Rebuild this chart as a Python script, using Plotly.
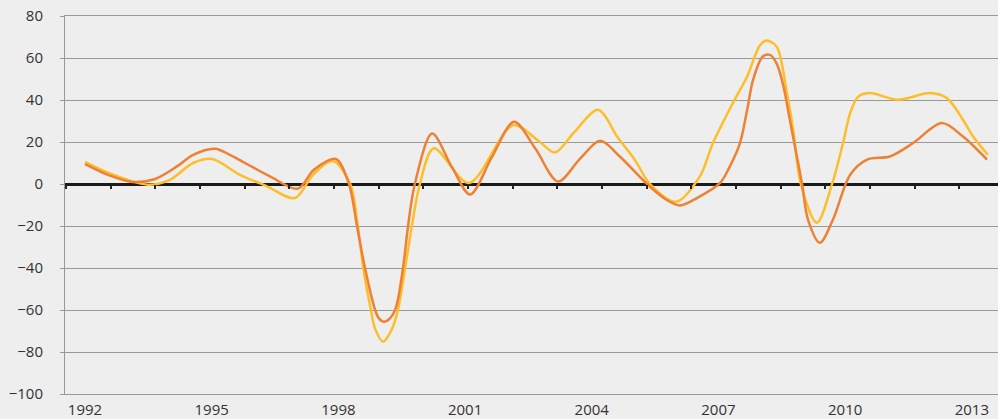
import plotly.graph_objects as go

# Orange series (decimal year, value)
orange_x = [1992.00, 1992.59, 1993.11, 1993.66, 1994.18, 1994.56, 1995.08, 1995.43, 1995.79,
            1996.38, 1997.04, 1997.42, 1997.94, 1998.25, 1998.44, 1998.63, 1998.87, 1998.96,
            1999.08, 1999.22, 1999.36, 1999.53, 1999.65, 1999.81, 2000.22, 2000.69, 2001.12,
            2001.64, 2002.16, 2002.66, 2003.20, 2003.72, 2004.20, 2004.67, 2005.31, 2005.73,
            2006.09, 2006.49, 2007.04, 2007.27, 2007.51, 2007.68, 2007.82, 2008.05, 2008.22,
            2008.38, 2008.54, 2008.69, 2008.98, 2009.12, 2009.40, 2009.71, 2010.12, 2010.52,
            2011.06, 2011.61, 2012.29, 2012.79, 2013.36]
orange_y = [9.5, 4, 1, 2.4, 8.4, 13.9, 16.8, 13.9, 10,
            3.6, -2.2, 6.8, 11.9, 0, -20, -40, -60, -64,
            -65.6, -64, -59, -40, -20, 0, 24, 8, -5,
            13, 29.6, 17, 1.2, 12, 20.6, 13, 0, -7,
            -10.2, -6.7, 0.5, 8.4, 19.5, 35.3, 49.6, 60.7, 61.5,
            57.3, 46.4, 30.6, 0, -17, -28, -17, 4.4, 11.6,
            13.1, 19.5, 29, 22.6, 11.6]

# Yellow series (decimal year, value)
yellow_x = [1992.00, 1992.59, 1993.49, 1994.01, 1994.56, 1995.01, 1995.67, 1996.31, 1996.97,
            1997.40, 1997.87, 1998.28, 1998.46, 1998.59, 1998.77, 1998.87, 1999.06, 1999.27,
            1999.41, 1999.58, 1999.74, 1999.93, 2000.26, 2001.09, 2002.14, 2002.77, 2003.13,
            2003.60, 2004.15, 2004.62, 2005.02, 2005.38, 2006.00, 2006.56, 2006.87, 2007.34,
            2007.68, 2007.98, 2008.14, 2008.38, 2008.62, 2008.77, 2008.95, 2009.33, 2009.69,
            2009.95, 2010.12, 2010.31, 2010.59, 2011.25, 2012.01, 2012.41, 2012.79, 2013.03,
            2013.38]
yellow_y = [10.5, 5, -0.3, 2, 10, 11.9, 4.4, -1.1, -6.7,
            4.4, 11, 0, -20, -40, -60, -69, -75.1, -69,
            -60, -40, -20, 0, 17, 0.5, 28, 20, 15,
            25, 35.3, 22, 11.5, 0, -8.4, 3.6, 19.5, 38.5,
            51.2, 66, 68.3, 65.4, 43.3, 25.8, 0, -18.5, 0,
            19.5, 33.8, 41.6, 43.3, 40.1, 43.3, 40.9, 30.6, 22.6,
            13.9]

year_labels = [1992, 1995, 1998, 2001, 2004, 2007, 2010, 2013]
y_ticks = [-100, -80, -60, -40, -20, 0, 20, 40, 60, 80]

x_range = [1991.526, 2013.62]
tick_start, tick_step, n_ticks = 1991.55, 1.0578, 21
zero_ticks = [tick_start + i * tick_step for i in range(n_ticks)]

fig = go.Figure()
fig.add_trace(go.Scatter(x=yellow_x, y=yellow_y, mode="lines",
                         line=dict(color="#FDBE2A", width=2.5, shape="spline", smoothing=0.9),
                         showlegend=False))
fig.add_trace(go.Scatter(x=orange_x, y=orange_y, mode="lines",
                         line=dict(color="#EE8134", width=2.5, shape="spline", smoothing=0.9),
                         showlegend=False))
# helper (invisible) trace so the tick-mark axis on the zero line is rendered
fig.add_trace(go.Scatter(x=zero_ticks, y=[0] * n_ticks, xaxis="x2", mode="markers",
                         marker=dict(opacity=0), hoverinfo="skip", showlegend=False))

font = dict(family="Open Sans, Noto Sans, sans-serif", size=15, color="#333333")

fig.update_layout(
    width=998, height=419,
    margin=dict(l=65, r=0, t=16, b=25, autoexpand=False),
    paper_bgcolor="#EEEEEE", plot_bgcolor="#EEEEEE",
    font=font,
    xaxis=dict(range=x_range, tickvals=year_labels, ticktext=[str(v) for v in year_labels],
               showgrid=False, zeroline=False, showline=True, linecolor="#999999", linewidth=1,
               mirror=True, ticks="", ticklabelstandoff=2, automargin=False),
    xaxis2=dict(range=x_range, overlaying="x", anchor="free", position=(0 - (-100)) / 180,
                side="bottom", tickvals=zero_ticks, showticklabels=False, ticks="outside",
                ticklen=4, tickwidth=1.5, tickcolor="#222222", showgrid=False,
                zeroline=False, showline=False, automargin=False),
    yaxis=dict(range=[-100, 80], tickvals=y_ticks, showgrid=True, gridcolor="#999999",
               gridwidth=1, zeroline=True, zerolinecolor="#1a1a1a", zerolinewidth=2.5,
               showline=True, linecolor="#999999", linewidth=1, ticks="outside",
               ticklen=4, tickcolor="#999999", ticklabelstandoff=14, automargin=False),
)

fig.write_html("out.html",
               config={"displayModeBar": False},
               post_script="document.body.style.margin='0';"
                           "document.body.style.background='#EEEEEE';")
